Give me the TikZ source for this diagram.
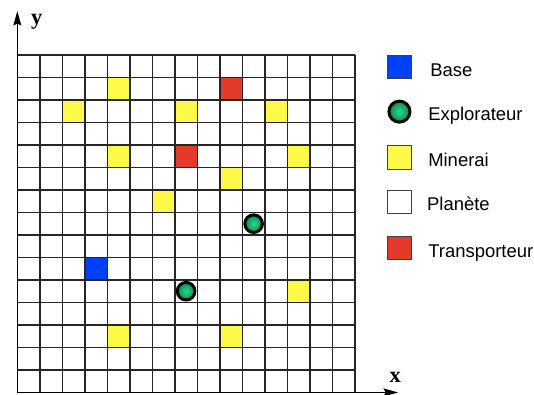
\documentclass[tikz,border=0pt]{standalone}
\usepackage{fontspec}
\setmainfont{Liberation Sans}
\newfontfamily\axisfont{Liberation Serif}
\usetikzlibrary{arrows.meta}

\definecolor{baseblue}{RGB}{0,64,250}
\definecolor{oreyellow}{RGB}{255,249,72}
\definecolor{carryred}{RGB}{228,58,44}
\definecolor{roverlight}{RGB}{50,215,140}
\definecolor{roverdark}{RGB}{0,140,80}

\tikzset{
  gridline/.style={draw=black!85,line width=1.1pt},
  axis/.style={draw=black,line width=1.1pt},
  keybox/.style={draw=black!75,line width=0.7pt,minimum size=0.62cm,inner sep=0pt},
  keytext/.style={anchor=base west,inner sep=0pt},
  rover/.style={circle,draw=black,line width=2.3pt,inner color=roverlight,
    outer color=roverdark,minimum size=0.47cm,inner sep=0pt},
  bigrover/.style={rover,minimum size=0.56cm},
  axislabel/.style={font=\axisfont\bfseries\fontsize{17}{19}\selectfont,inner sep=0pt}
}

\begin{document}
\begin{tikzpicture}[>={Stealth[length=11pt,width=6pt,inset=1.5pt]},
  x=0.6cm,y=0.6cm,line join=round,font=\fontsize{14}{17}\selectfont]

  \useasboundingbox (-0.77,-0.07) rectangle (22.96,17.44);

  % ore deposits
  \fill[oreyellow] (4,13) rectangle ++(1,1);
  \fill[oreyellow] (2,12) rectangle ++(1,1);
  \fill[oreyellow] (7,12) rectangle ++(1,1);
  \fill[oreyellow] (11,12) rectangle ++(1,1);
  \fill[oreyellow] (4,10) rectangle ++(1,1);
  \fill[oreyellow] (12,10) rectangle ++(1,1);
  \fill[oreyellow] (9,9) rectangle ++(1,1);
  \fill[oreyellow] (6,8) rectangle ++(1,1);
  \fill[oreyellow] (12,4) rectangle ++(1,1);
  \fill[oreyellow] (4,2) rectangle ++(1,1);
  \fill[oreyellow] (9,2) rectangle ++(1,1);

  % carriers
  \fill[carryred] (9,13) rectangle ++(1,1);
  \fill[carryred] (7,10) rectangle ++(1,1);

  % home base
  \fill[baseblue] (3,5) rectangle ++(1,1);

  % planet surface
  \draw[gridline] (0,0) grid[step=1] (15,15);

  % explorers
  \node[rover] (roverA) at (10.5,7.5) {};
  \node[rover] (roverB) at (7.5,4.5) {};

  % axes
  \coordinate (O) at (0,0);
  \coordinate (xtip) at (16.92,0);
  \coordinate (ytip) at (0,16.95);
  \draw[axis,->] (O) -- (xtip);
  \draw[axis,->] (O) -- (ytip);
  \node[axislabel] (xlab) at (16.79,0.69) {x};
  \node[axislabel] (ylab) at (0.86,16.45) {y};

  % legend
  \node[keybox,fill=baseblue] (keybase) at (16.98,14.46) {};
  \node[bigrover] (keyrover) at (16.98,12.48) {};
  \node[keybox,fill=oreyellow] (keyore) at (16.98,10.44) {};
  \node[keybox,fill=white] (keyplanet) at (16.98,8.48) {};
  \node[keybox,fill=carryred] (keycarry) at (16.98,6.41) {};

  \node[keytext] (txtbase) at (18.34,14.06) {Base};
  \node[keytext] (txtrover) at (18.25,12.08) {Explorateur};
  \node[keytext] (txtore) at (18.25,10.04) {Minerai};
  \node[keytext] (txtplanet) at (18.2,8.08) {Planète};
  \node[keytext] (txtcarry) at (18.25,6.01) {Transporteur};
\end{tikzpicture}
\end{document}
